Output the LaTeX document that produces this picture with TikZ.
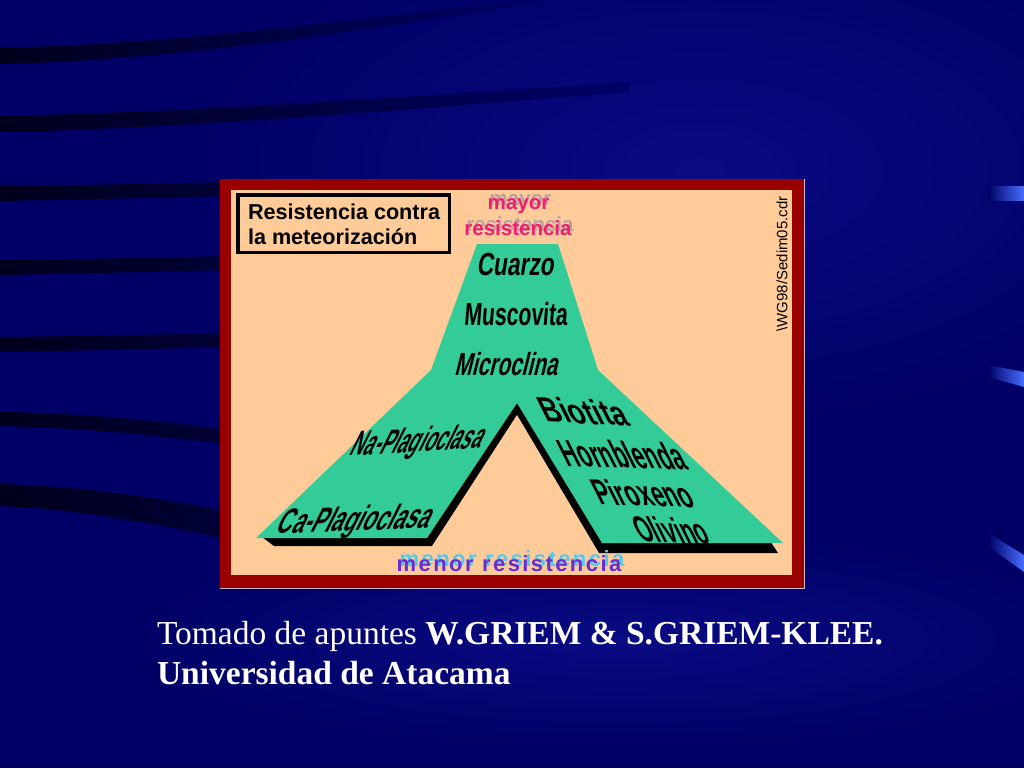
\documentclass[tikz,border=0pt]{standalone}
\usepackage{fontspec}
\usepackage{graphicx}
\setmainfont{Liberation Serif}
\newfontfamily\arial{Liberation Sans}
\newfontfamily\arialsp[LetterSpace=11]{Liberation Sans}
\definecolor{navy}{RGB}{0,0,102}
\definecolor{navylight}{RGB}{10,10,132}
\definecolor{bandc}{RGB}{0,0,28}
\definecolor{framered}{RGB}{153,0,0}
\definecolor{framelight}{RGB}{200,185,205}
\definecolor{peach}{RGB}{255,204,153}
\definecolor{mint}{RGB}{51,204,153}
\definecolor{pinktxt}{RGB}{240,30,110}
\definecolor{pinkshadow}{RGB}{185,160,165}
\definecolor{purpletxt}{RGB}{102,45,210}
\definecolor{cyantxt}{RGB}{85,200,240}
\definecolor{markblue}{RGB}{70,110,255}
\begin{document}
\begin{tikzpicture}[x=1pt,y=-1pt,
  every node/.style={inner sep=0pt, outer sep=0pt},
  mineral/.style={anchor=base, font=\arial\bfseries},
  band/.style={left color=bandc, right color=navy},
  bandshort/.style={left color=bandc, right color=bandc!55!navy},
  bluemark/.style={left color=navy, right color=markblue}]
\useasboundingbox (0,0) rectangle (1024,768);
% background
\fill[navy] (0,0) rectangle (1024,768);
\begin{scope}
\clip (0,0) rectangle (1024,768);
\shade[inner color=navylight, outer color=navy] (700,170) ellipse [x radius=520, y radius=260];
\shade[inner color=navylight, outer color=navy] (620,640) ellipse [x radius=500, y radius=110];
\end{scope}
% dark bands
\shade[band] (0,48) .. controls (170,44) and (340,22) .. (520,0) -- (548,0) .. controls (350,34) and (170,60) .. (0,64) -- cycle;
\shade[band] (0,116) .. controls (200,112) and (420,96) .. (630,82) -- (630,92) .. controls (420,108) and (200,128) .. (0,132) -- cycle;
\shade[bandshort] (0,186) .. controls (100,185) and (200,183) .. (300,180) -- (300,194) .. controls (200,197) and (100,199) .. (0,201) -- cycle;
\shade[bandshort] (0,260) .. controls (100,259) and (200,257) .. (300,254) -- (300,268) .. controls (200,271) and (100,273) .. (0,275) -- cycle;
\shade[bandshort] (0,337) .. controls (100,336) and (200,334) .. (300,331) -- (300,345) .. controls (200,348) and (100,350) .. (0,352) -- cycle;
\shade[bandshort] (0,412) .. controls (100,413) and (200,425) .. (300,440) -- (300,454) .. controls (200,440) and (100,428) .. (0,426) -- cycle;
\shade[bandshort] (0,484) .. controls (100,487) and (200,503) .. (300,528) -- (300,556) .. controls (200,532) and (100,510) .. (0,506) -- cycle;
% right blue marks
\shade[bluemark] (988,186) -- (1024,186) -- (1024,200) -- (988,200) -- cycle;
\shade[bluemark] (988,365) -- (1024,372) -- (1024,387) -- (988,377) -- cycle;
\shade[bluemark] (988,533) -- (1024,555) -- (1024,572) -- (988,546) -- cycle;
% frame
\fill[framered] (220,179) rectangle (804,588);
\draw[framelight, line width=1pt] (220,588.5) -- (804.5,588.5) -- (804.5,179);
\fill[peach] (231,190) rectangle (792,575);
% legend box
\node[draw=black, line width=3.5pt, minimum width=211.5pt, minimum height=57.5pt] (legend) at (343.5,223.5) {};
\node[anchor=base west, font=\arial\bfseries\fontsize{21.6}{21.6}\selectfont] (leg1) at (248,219) {Resistencia contra};
\node[anchor=base west, font=\arial\bfseries\fontsize{21.6}{21.6}\selectfont] (leg2) at (248,244) {la meteorización};
% mayor resistencia
\node[anchor=base, pinkshadow, font=\arial\bfseries\fontsize{20.5}{20.5}\selectfont] (mayorS) at (520.5,205.5) {mayor};
\node[anchor=base, pinktxt, font=\arial\bfseries\fontsize{20.5}{20.5}\selectfont] (mayor) at (518.5,209.5) {mayor};
\node[anchor=base, pinkshadow, font=\arial\bfseries\fontsize{20.5}{20.5}\selectfont] (resS) at (520,231) {resistencia};
\node[anchor=base, pinktxt, font=\arial\bfseries\fontsize{20.5}{20.5}\selectfont] (res) at (518,235) {resistencia};
% shadow of the plate
\fill[black] (262,537) -- (274,546) -- (436,546) -- (598,553) -- (778,553) -- (770,541) -- (598,375) -- (433,375) -- cycle;
% green plate
\fill[mint] (477,244) -- (558,244) -- (598,370) -- (783,543) -- (602,543) -- (517,403) -- (427,538) -- (256,538) -- (431,370) -- cycle;
% notch
\fill[peach] (517,415) -- (603,560) -- (423,560) -- cycle;
% minerals
\node[mineral, xslant=0.15] (cuarzo) at (515,275) {\fontsize{32}{32}\selectfont\scalebox{0.71}[1]{Cuarzo}};
\node[mineral, xslant=0.08] (muscovita) at (515.5,325) {\fontsize{32}{32}\selectfont\scalebox{0.66}[1]{Muscovita}};
\node[mineral, xslant=0.25] (microclina) at (505.5,375) {\fontsize{32}{32}\selectfont\scalebox{0.65}[1]{Microclina}};
\node[mineral, xslant=0.5, yslant=0.06] (naplag) at (414,452) {\fontsize{35}{35}\selectfont\scalebox{0.51}[1]{Na-Plagioclasa}};
\node[mineral, xslant=0.5, yslant=0.04] (caplag) at (351,531) {\fontsize{35}{35}\selectfont\scalebox{0.6}[1]{Ca-Plagioclasa}};
\node[mineral, xslant=-0.5, yslant=-0.05] (biotita) at (589,424) {\fontsize{35}{35}\selectfont\scalebox{0.76}[1]{Biotita}};
\node[mineral, xslant=-0.5, yslant=-0.03] (hornblenda) at (629,468) {\fontsize{38}{38}\selectfont\scalebox{0.57}[1]{Hornblenda}};
\node[mineral, xslant=-0.5, yslant=-0.03] (piroxeno) at (649,506) {\fontsize{36}{36}\selectfont\scalebox{0.62}[1]{Piroxeno}};
\node[mineral, xslant=-0.5, yslant=-0.03] (olivino) at (677,543) {\fontsize{36}{36}\selectfont\scalebox{0.58}[1]{Olivino}};
% menor resistencia
\node[anchor=base, cyantxt, font=\arialsp\bfseries\fontsize{22}{22}\selectfont] (menS) at (512,566) {menor resistencia};
\node[anchor=base, purpletxt, font=\arialsp\bfseries\fontsize{22}{22}\selectfont] (men) at (509,571) {menor resistencia};
% file name
\node[rotate=90, font=\arial\fontsize{15}{15}\selectfont] (file) at (782,264) {\textbackslash WG98/Sedim05.cdr};
% caption
\node[anchor=base west, white, font=\fontsize{33.5}{33.5}\selectfont] (cap1) at (157,644) {Tomado de apuntes \textbf{W.GRIEM \& S.GRIEM-KLEE.}};
\node[anchor=base west, white, font=\bfseries\fontsize{33.5}{33.5}\selectfont] (cap2) at (157,684) {Universidad de Atacama};
\end{tikzpicture}
\end{document}
